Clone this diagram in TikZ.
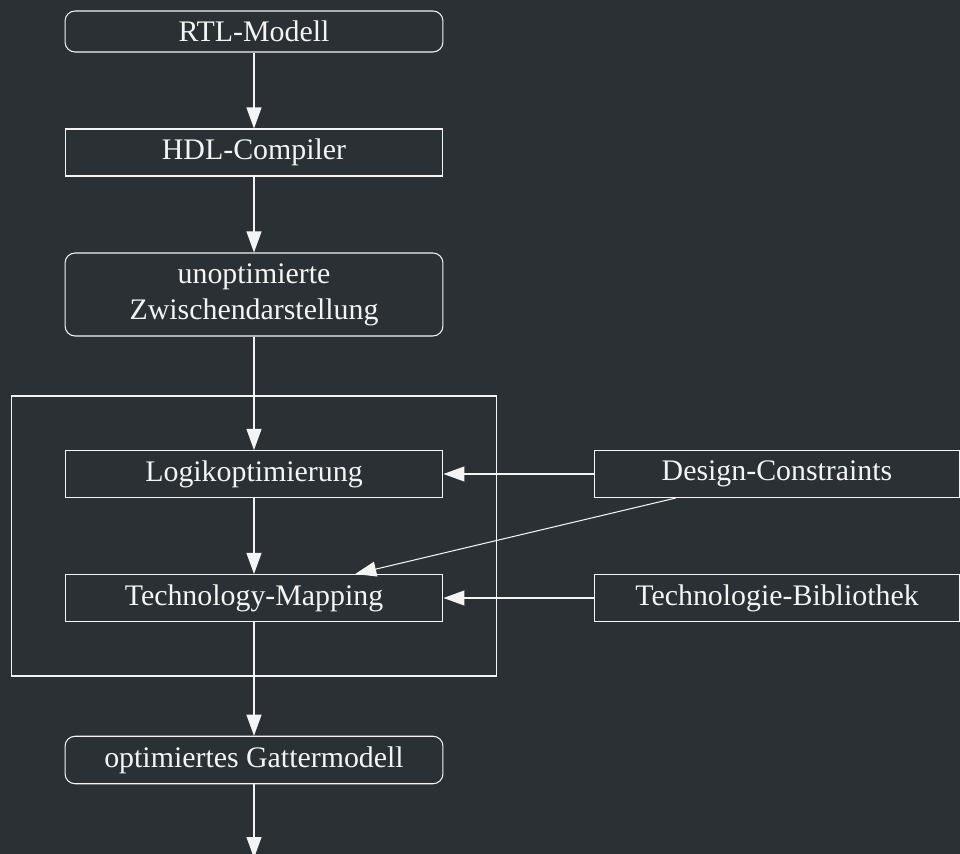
\documentclass[tikz,border=0pt]{standalone}
\usepackage{fontspec}
\setmainfont{Liberation Serif}
\usetikzlibrary{arrows.meta, positioning}
\definecolor{bgDark}{HTML}{2A3033}
\definecolor{lineWhite}{HTML}{F4F4F4}
\tikzset{
    box/.style={draw=lineWhite, text=lineWhite, line width=0.6pt, inner sep=0pt,
        minimum width=7.56cm, minimum height=0.94cm,
        font=\fontsize{17}{20.5}\selectfont, align=center},
    roundbox/.style={box, rounded corners=0.2cm},
    sidebox/.style={box, minimum width=7.32cm},
    framebox/.style={draw=lineWhite, line width=0.6pt, minimum width=9.72cm, minimum height=5.6cm, inner sep=0pt},
    flow/.style={draw=lineWhite, line width=0.6pt, -{Triangle[length=0.42cm, width=0.3cm]}},
}

\begin{document}
\begin{tikzpicture}[x=0.02cm, y=-0.02cm]
        % background
        \fill[bgDark] (0,0) rectangle (960,854);
        \useasboundingbox (0,0) rectangle (960,854);

        % synthesis frame
        \node[framebox] (frame) at (254,536) {};

        % main flow
        \node[roundbox, minimum height=0.82cm] (rtl) at (254,31.5) {RTL-Modell};
        \node[box] (hdl) at (254,152.5) {HDL-Compiler};
        \node[roundbox, minimum height=1.66cm] (unopt) at (254,294.5) {unoptimierte\\Zwischendarstellung};
        \node[box] (logik) at (254,474) {Logikoptimierung};
        \node[box] (mapping) at (254,598) {Technology-Mapping};
        \node[roundbox, minimum height=0.95cm] (gatter) at (254,760) {optimiertes Gattermodell};
        \coordinate (out) at (254,858);

        % inputs
        \node[sidebox] (constraints) at (777,474) {Design-Constraints};
        \node[sidebox] (library) at (777,598) {Technologie-Bibliothek};

        \draw[flow] (rtl) -- (hdl);
        \draw[flow] (hdl) -- (unopt);
        \draw[flow] (unopt) -- (logik);
        \draw[flow] (logik) -- (mapping);
        \draw[flow] (mapping) -- (gatter);
        \draw[flow] (gatter) -- (out);

        \draw[flow] (constraints) -- (logik);
        \draw[flow] (constraints) -- (mapping);
        \draw[flow] (library) -- (mapping);
    \end{tikzpicture}
\end{document}
